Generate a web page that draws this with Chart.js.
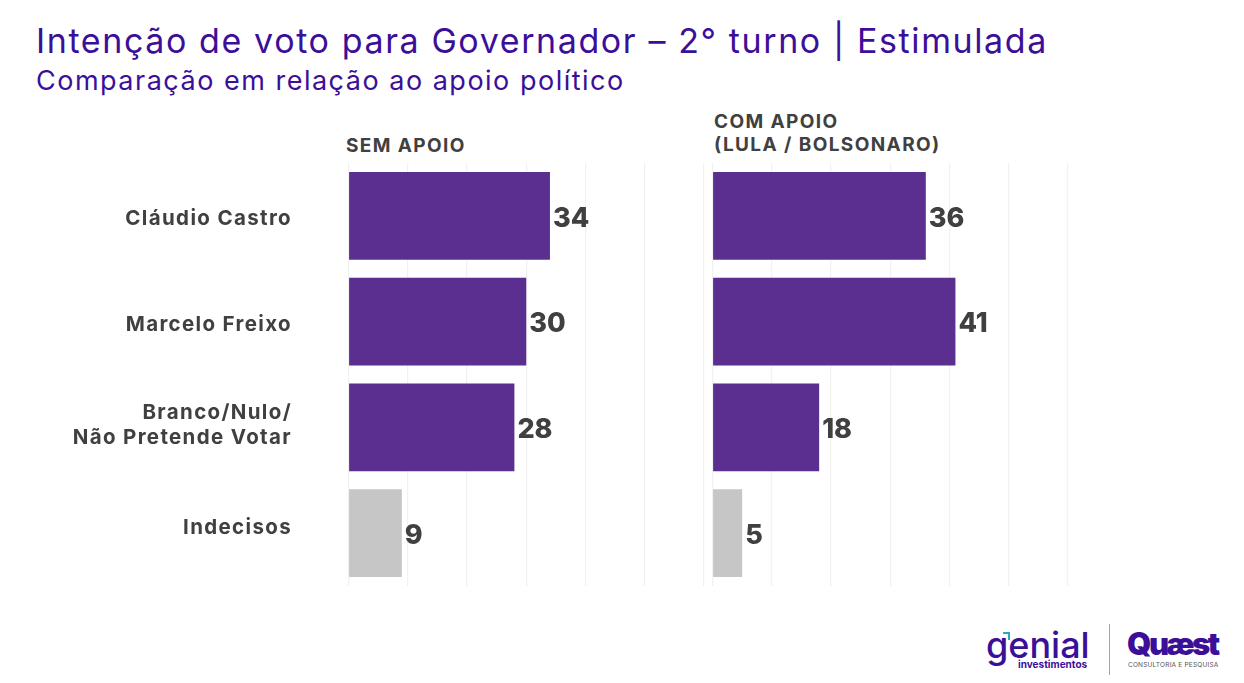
<!DOCTYPE html>
<html lang="pt-BR">
<head>
<meta charset="utf-8">
<title>Intenção de voto para Governador</title>
<script src="https://cdn.jsdelivr.net/npm/chart.js"></script>
<style>
  html, body { margin: 0; padding: 0; background: #fff; width: 1244px; height: 683px; overflow: hidden; font-family: Inter, sans-serif; }
  .abs { position: absolute; white-space: nowrap; }
  #title { left: 36px; top: 20px; font-size: 34px; line-height: 42px; color: #3c0f99; letter-spacing: 1.6px; }
  #subtitle { left: 36px; top: 65px; font-size: 27px; line-height: 32px; color: #3c0f99; letter-spacing: 1.5px; }
  .head { font-size: 19px; line-height: 23px; font-weight: 700; color: #404040; letter-spacing: 1.4px; }
  canvas { position: absolute; top: 163px; }
  #logoA { left: 986px; top: 623px; font-size: 36px; line-height: 44px; color: #3c0f99; font-weight: 500; }
  #logoMark { left: 1003px; top: 632px; width: 5px; height: 6px; border-top: 2px solid #2fa8c0; border-right: 2px solid #2fa8c0; }
  #logoA2 { left: 1018px; top: 659px; font-size: 10px; line-height: 11px; color: #3c0f99; font-weight: 700; }
  #sep { left: 1109px; top: 624px; width: 1px; height: 51px; background: #6cbcc6; }
  #logoB { left: 1127px; top: 626px; font-size: 31px; line-height: 36px; color: #3c0f99; font-weight: 900; letter-spacing: -2.5px; }
  #logoB2 { left: 1128px; top: 661px; font-size: 6.5px; line-height: 9px; color: #555; letter-spacing: 0.2px; }
</style>
</head>
<body>
<div class="abs" id="title">Intenção de voto para Governador – 2° turno | Estimulada</div>
<div class="abs" id="subtitle">Comparação em relação ao apoio político</div>
<div class="abs head" style="left:346px;top:134px">SEM APOIO</div>
<div class="abs head" style="left:714px;top:110px">COM APOIO<br>(LULA / BOLSONARO)</div>

<canvas id="semApoio" width="710" height="423" style="left:0;width:710px;height:423px"></canvas>
<canvas id="comApoio" width="370" height="423" style="left:705px;width:370px;height:423px"></canvas>

<div class="abs" id="logoA">genial</div>
<div class="abs" id="logoMark"></div>
<div class="abs" id="logoA2">investimentos</div>
<div class="abs" id="sep"></div>
<div class="abs" id="logoB">Quæst</div>
<div class="abs" id="logoB2">CONSULTORIA E PESQUISA</div>

<script>
const categories = [
  ['Cláudio Castro'],
  ['Marcelo Freixo'],
  ['Branco/Nulo/', 'Não Pretende Votar'],
  ['Indecisos']
];
const semApoio = [34, 30, 28, 9];
const comApoio = [36, 41, 18, 5];
const axisTicks = [0, 10, 20, 30, 40, 50, 60];

const barColors = ['#5b2f8f', '#5b2f8f', '#5b2f8f', '#c6c6c6'];
const labelNudge = [3, 3, -2, -5]; // the slide doesn't centre its labels on the bars

Chart.defaults.font.family = 'Inter, sans-serif';

const valueLabels = {
  id: 'valueLabels',
  afterDatasetsDraw(chart) {
    const { ctx } = chart;
    const bars = chart.getDatasetMeta(0).data;
    ctx.save();
    ctx.font = '800 27px Inter, sans-serif';
    ctx.fillStyle = '#404040';
    ctx.textBaseline = 'middle';
    ctx.textAlign = 'left';
    bars.forEach((bar, i) => {
      ctx.fillText(chart.data.datasets[0].data[i], bar.x + 3, bar.y + 2.5);
    });
    ctx.restore();
  }
};

const categoryLabels = {
  id: 'categoryLabels',
  afterDraw(chart) {
    const { ctx, scales } = chart;
    ctx.save();
    ctx.font = '700 20.5px Inter, sans-serif';
    ctx.letterSpacing = '1.35px';
    ctx.fillStyle = '#404040';
    ctx.textBaseline = 'middle';
    ctx.textAlign = 'right';
    categories.forEach((lines, i) => {
      const y = scales.y.getPixelForValue(i) + labelNudge[i];
      lines.forEach((line, n) => {
        ctx.fillText(line, 292, y + (n - (lines.length - 1) / 2) * 25);
      });
    });
    ctx.restore();
  }
};

function makeChart(id, values, padding, plugins) {
  return new Chart(document.getElementById(id), {
    type: 'bar',
    data: {
      labels: categories.map(c => c.join(' ')),
      datasets: [{
        data: values,
        backgroundColor: barColors,
        barPercentage: 1,
        categoryPercentage: 0.83
      }]
    },
    options: {
      indexAxis: 'y',
      responsive: false,
      animation: false,
      layout: { padding },
      plugins: { legend: { display: false }, tooltip: { enabled: false } },
      scales: {
        x: {
          min: 0,
          max: 60,
          afterBuildTicks: scale => { scale.ticks = axisTicks.map(value => ({ value })); },
          ticks: { display: false },
          grid: { color: '#f1f1f1', lineWidth: 1.2, drawTicks: false },
          border: { display: false }
        },
        y: {
          ticks: { display: false },
          grid: { display: false, drawTicks: false },
          border: { display: false }
        }
      }
    },
    plugins
  });
}

makeChart('semApoio', semApoio, { left: 348.5, right: 6 }, [valueLabels, categoryLabels]);
makeChart('comApoio', comApoio, { left: 7.5, right: 7 }, [valueLabels]);
</script>
</body>
</html>
